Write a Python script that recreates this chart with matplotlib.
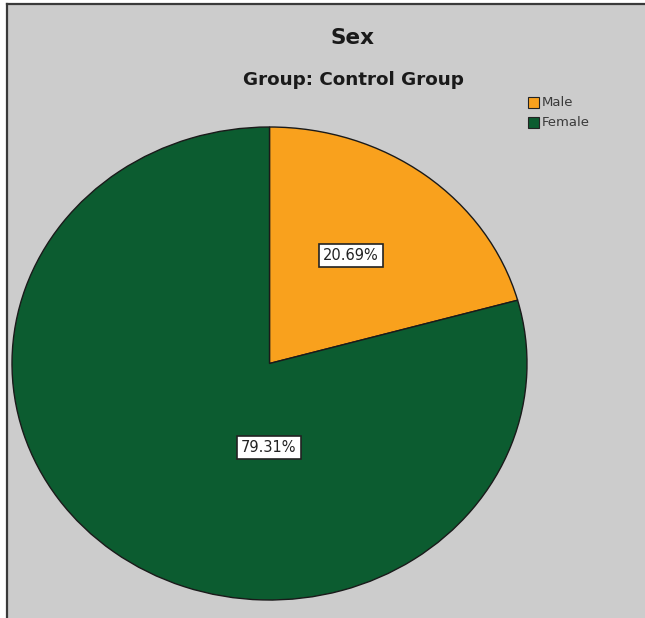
import matplotlib.pyplot as plt
from matplotlib.patches import Rectangle

plt.rcParams['font.family'] = ['DejaVu Sans']

# Sex distribution for the control group
categories = ['Male', 'Female']
shares = [20.69, 79.31]
colors = ['#f9a11d', '#0c5c30']
label_pos = [(0.316, 0.457), (-0.002, -0.355)]

W, H = 645, 618
fig = plt.figure(figsize=(W / 100, H / 100), dpi=100, facecolor='white')

# grey chart area with a dark frame on the left and top
fig.patches.append(Rectangle((7 / W, 0), 1 - 7 / W, 1 - 4 / H, transform=fig.transFigure,
                             facecolor='#cccccc', edgecolor='none', zorder=-5))
fig.add_artist(plt.Line2D([7 / W, 7 / W], [0, 1 - 4 / H], transform=fig.transFigure,
                          color='#3a3a3a', lw=1.6, zorder=-4))
fig.add_artist(plt.Line2D([7 / W, 1], [1 - 4 / H, 1 - 4 / H], transform=fig.transFigure,
                          color='#3a3a3a', lw=1.6, zorder=-4))

# pie is drawn slightly wider than tall
ax = fig.add_axes([12 / W, (H - 600) / H, 515 / W, 473 / H], zorder=1)
ax.patch.set_visible(False)
wedges, _ = ax.pie(shares, colors=colors, startangle=90, counterclock=False,
                   wedgeprops=dict(edgecolor='#1a1a1a', linewidth=1.0))
ax.set_aspect('auto')
ax.set_xlim(-1, 1)
ax.set_ylim(-1, 1)
ax.axis('off')

for val, (x, y) in zip(shares, label_pos):
    ax.text(x, y, f'{val:.2f}%', ha='center', va='center', fontsize=10.5, color='#222222',
            bbox=dict(boxstyle='square,pad=0.3', facecolor='white', edgecolor='#222222', linewidth=1.2))

fig.text(352 / W, 1 - 38 / H, 'Sex', ha='center', va='center', fontsize=15.5,
         fontweight='bold', color='#1a1a1a')
fig.text(353 / W, 1 - 80 / H, 'Group: Control Group', ha='center', va='center', fontsize=13.2,
         fontweight='bold', color='#1a1a1a')

# legend
for i, (name, c) in enumerate(zip(categories, colors)):
    yc = 1 - (102.5 + i * 20) / H
    fig.patches.append(Rectangle((528 / W, yc - 5.5 / H), 11 / W, 11 / H, transform=fig.transFigure,
                                 facecolor=c, edgecolor='#222222', linewidth=0.8, zorder=2))
    fig.text(542 / W, yc, name, ha='left', va='center', fontsize=9.5, color='#3a3a3a')

fig.savefig('out.png', dpi=100, facecolor='white')
